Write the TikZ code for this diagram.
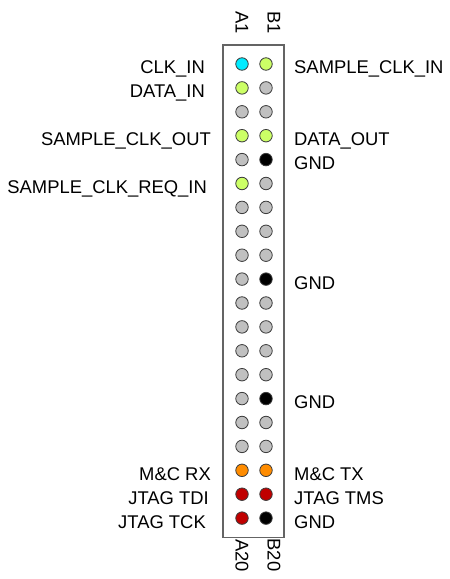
\documentclass[tikz,border=0pt]{standalone}
\usepackage{fontspec}
\setmainfont{Liberation Sans}
\definecolor{pincyan}{RGB}{0,235,255}
\definecolor{pingreen}{RGB}{204,255,102}
\definecolor{pingray}{RGB}{192,192,192}
\definecolor{pinblack}{RGB}{0,0,0}
\definecolor{pinorange}{RGB}{255,140,0}
\definecolor{pinred}{RGB}{192,0,0}
\definecolor{pinedge}{RGB}{60,60,60}
\definecolor{boxedge}{RGB}{100,100,100}
\begin{document}
\begin{tikzpicture}[x=1bp,y=-1bp,
  pinst/.style={circle,draw=pinedge,line width=0.8bp,minimum size=12.5bp,inner sep=0pt},
  lbl/.style={font=\fontsize{18.4bp}{20bp}\selectfont,inner sep=0pt,text=black},
  lleft/.style={lbl,anchor=base east},
  lright/.style={lbl,anchor=base west},
  lrot/.style={lbl,rotate=-90,anchor=west}]
\useasboundingbox (0,0) rectangle (450,579);
\node[draw=boxedge,line width=1.2bp,minimum width=61bp,minimum height=492.5bp,inner sep=0pt] (hdr) at (253.5,291.25) {};
\foreach \r/\ca/\cb in {1/pincyan/pingreen,2/pingreen/pingray,3/pingray/pingray,4/pingreen/pingreen,5/pingray/pinblack,6/pingreen/pingray,7/pingray/pingray,8/pingray/pingray,9/pingray/pingray,10/pingray/pinblack,11/pingray/pingray,12/pingray/pingray,13/pingray/pingray,14/pingray/pingray,15/pingray/pinblack,16/pingray/pingray,17/pingray/pingray,18/pinorange/pinorange,19/pinred/pinred,20/pinred/pinblack}{
  \node[pinst,fill=\ca] (a\r) at (242,{64+(\r-1)*23.9}) {};
  \node[pinst,fill=\cb] (b\r) at (266,{64+(\r-1)*23.9}) {};
}
% column labels
\node[lrot] (ta1) at (242,11) {A1};
\node[lrot] (tb1) at (274,11) {B1};
\node[lrot] (ta20) at (242,539) {A20};
\node[lrot] (tb20) at (274,538.5) {B20};
% left labels
\node[lleft] (l1) at (205,74) {CLK\_IN};
\node[lleft] (l2) at (205,97.9) {DATA\_IN};
\node[lleft] (l4) at (211,145.7) {SAMPLE\_CLK\_OUT};
\node[lleft] (l6) at (207,193.5) {SAMPLE\_CLK\_REQ\_IN};
\node[lleft] (l18) at (211,480.3) {M\&C RX};
\node[lleft] (l19) at (209,504.2) {JTAG TDI};
\node[lleft] (l20) at (206,528.1) {JTAG TCK};
% right labels
\node[lright] (r1) at (294,74) {SAMPLE\_CLK\_IN};
\node[lright] (r4) at (294,145.7) {DATA\_OUT};
\node[lright] (r5) at (294,169.6) {GND};
\node[lright] (r10) at (294,289.1) {GND};
\node[lright] (r15) at (294,408.6) {GND};
\node[lright] (r18) at (294,480.3) {M\&C TX};
\node[lright] (r19) at (294,504.2) {JTAG TMS};
\node[lright] (r20) at (294,528.1) {GND};
\end{tikzpicture}
\end{document}
